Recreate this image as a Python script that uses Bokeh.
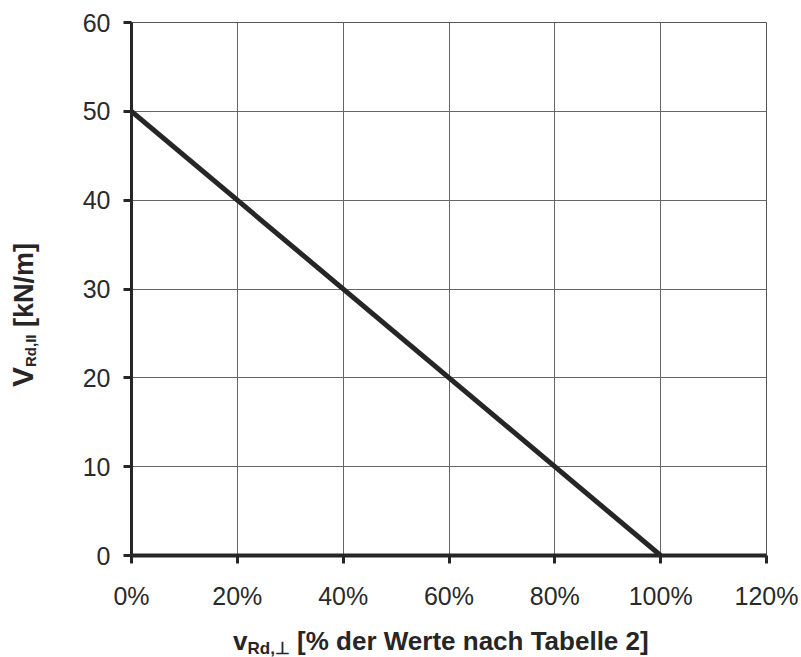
from bokeh.plotting import figure
from bokeh.models import Range1d, FixedTicker, Div
from bokeh.layouts import row, column
from bokeh.embed import file_html
from bokeh.resources import INLINE

# ---- data ----
x_pct = [0, 100]          # v_Rd,perp [% of table 2 values]
v_rd_par = [50, 0]        # V_Rd,II [kN/m]
x_ticks = [0, 20, 40, 60, 80, 100, 120]
x_tick_labels = ["0%", "20%", "40%", "60%", "80%", "100%", "120%"]
y_ticks = [0, 10, 20, 30, 40, 50, 60]
y_tick_labels = ["0", "10", "20", "30", "40", "50", "60"]
x_title_main, x_title_sub, x_title_rest = "v", "Rd,⊥", "[% der Werte nach Tabelle 2]"
y_title_main, y_title_sub, y_title_rest = "V", "Rd,II", "[kN/m]"

FONT = "Liberation Sans"
INK = "#262626"

YLAB_W = 46
FIG_W = 801 - YLAB_W
XLAB_H = 35
FIG_H = 657 - XLAB_H

p = figure(width=FIG_W, height=FIG_H, output_backend="svg", toolbar_location=None,
           x_range=Range1d(0, 120), y_range=Range1d(0, 60),
           min_border_left=131 - YLAB_W, min_border_right=35, min_border_top=22,
           min_border_bottom=FIG_H - 555)
p.background_fill_color = "white"
p.border_fill_color = "white"
p.outline_line_color = "#555555"
p.outline_line_width = 1

p.line(x_pct, v_rd_par, line_color=INK, line_width=5)

for ax, ticks, labels in ((p.xaxis[0], x_ticks, x_tick_labels),
                          (p.yaxis[0], y_ticks, y_tick_labels)):
    ax.ticker = FixedTicker(ticks=ticks)
    ax.major_label_overrides = {t: l for t, l in zip(ticks, labels)}
    ax.minor_tick_line_color = None
    ax.major_tick_in = 0
    ax.major_tick_out = 8
    ax.major_tick_line_width = 3
    ax.major_tick_line_color = INK
    ax.axis_line_color = INK
    ax.major_label_text_font = FONT
    ax.major_label_text_font_size = "25px"
    ax.major_label_text_color = "#2a2a2a"

p.xaxis[0].axis_line_width = 4
p.yaxis[0].axis_line_width = 3
p.xaxis[0].major_label_standoff = 18
p.yaxis[0].major_label_standoff = 13

for g in (p.xgrid[0], p.ygrid[0]):
    g.grid_line_color = "#666666"
    g.grid_line_width = 1
p.xgrid[0].ticker = FixedTicker(ticks=x_ticks)
p.ygrid[0].ticker = FixedTicker(ticks=y_ticks)

base = f"font-family:'{FONT}'; font-weight:bold; color:{INK}; white-space:nowrap;"

x_html = (
    f'<div style="{base} font-size:26px; line-height:26px; '
    f'padding:6px 0 0 {233 - YLAB_W}px;">'
    f'{x_title_main}<span style="font-size:17px; position:relative; top:4px;">'
    f'{x_title_sub}</span> {x_title_rest}</div>'
)
y_html = (
    f'<div style="{base} font-size:27px; line-height:27px; width:max-content; '
    f'margin:387px 0 0 9px; transform-origin:0 0; transform:rotate(-90deg);">'
    f'<span style="font-size:30px;">{y_title_main}</span>'
    f'<span style="font-size:15px; position:relative; top:3px;">{y_title_sub}</span>'
    f' {y_title_rest}</div>'
)

div_x = Div(text=x_html, width=FIG_W, height=XLAB_H, margin=0)
div_y = Div(text=y_html, width=YLAB_W, height=657, margin=0)

layout = row(div_y, column(p, div_x, spacing=0), spacing=0)

open("out.html", "w").write(file_html(layout, INLINE))
